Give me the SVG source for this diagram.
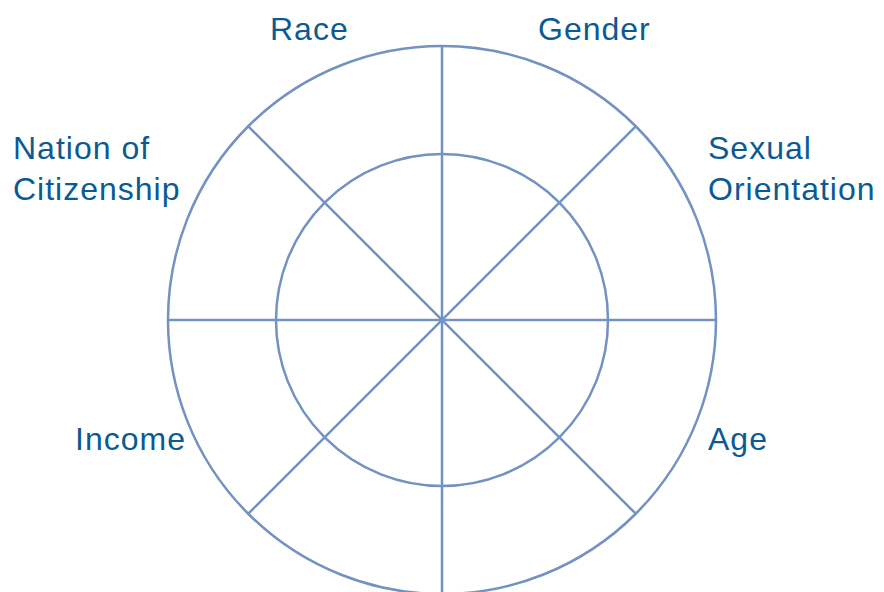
<svg xmlns="http://www.w3.org/2000/svg" width="884" height="592" viewBox="0 0 884 592">
<style>
.ln{fill:none;stroke:#7292c4;stroke-width:2.5}
.lb{font-family:"Liberation Sans",Arial,sans-serif;font-size:32px;letter-spacing:1px;fill:#0b5a94}
</style>
<rect width="884" height="592" fill="#fff"/>
<g id="wheel">
<circle class="ln" cx="442" cy="320" r="274"/>
<circle class="ln" cx="442" cy="320" r="166"/>
</g>
<g id="connectors">
<line class="ln" x1="442" y1="46" x2="442" y2="594"/>
<line class="ln" x1="168" y1="320" x2="716" y2="320"/>
<line class="ln" x1="248.3" y1="126.3" x2="635.7" y2="513.7"/>
<line class="ln" x1="635.7" y1="126.3" x2="248.3" y2="513.7"/>
</g>
<g id="race"><text class="lb" x="270" y="40">Race</text></g>
<g id="gender"><text class="lb" x="538" y="40">Gender</text></g>
<g id="nation"><text class="lb" x="13" y="159">Nation of</text><text class="lb" x="13" y="200">Citizenship</text></g>
<g id="sexual"><text class="lb" x="708" y="159">Sexual</text><text class="lb" x="708" y="200">Orientation</text></g>
<g id="income"><text class="lb" x="75" y="450">Income</text></g>
<g id="age"><text class="lb" x="708" y="450">Age</text></g>
</svg>
